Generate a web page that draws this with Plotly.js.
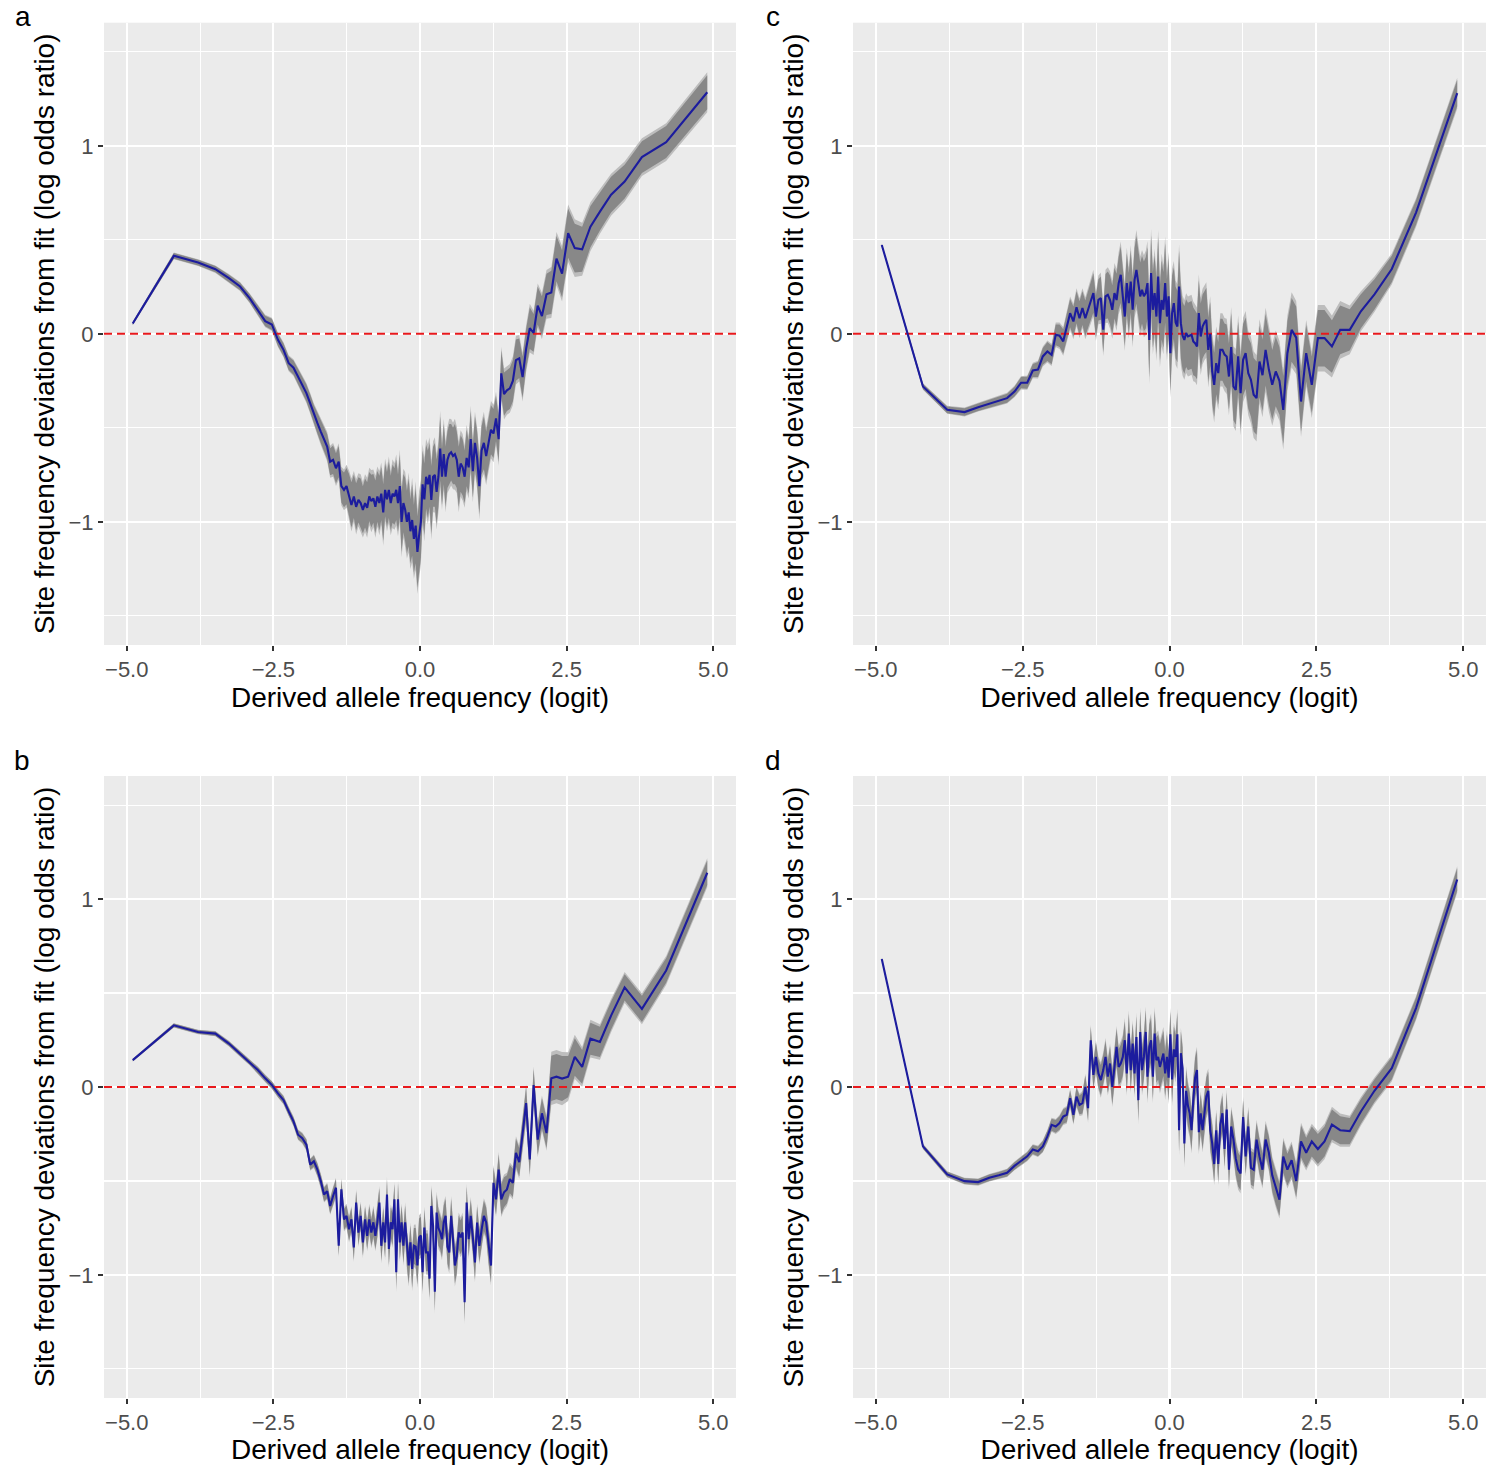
<!DOCTYPE html>
<html>
<head>
<meta charset="utf-8">
<script src="https://cdn.plot.ly/plotly-3.0.1.min.js"></script>
<style>
  html, body { margin: 0; padding: 0; background: #ffffff; }
  #chart { width: 1500px; height: 1465px; }
</style>
</head>
<body>
<div id="chart"></div>
<script>
// Derived allele frequency (logit) positions shared by all panels
const freqLogit = [
  -4.898,-4.197,-3.784,-3.489,-3.258,-3.068,-2.906,-2.765,-2.639,-2.526,
  -2.422,-2.327,-2.239,-2.157,-2.079,-2.007,-1.937,-1.872,-1.809,-1.749,
  -1.692,-1.636,-1.583,-1.532,-1.482,-1.433,-1.386,-1.341,-1.296,-1.253,
  -1.21,-1.169,-1.128,-1.089,-1.05,-1.012,-0.974,-0.937,-0.901,-0.865,
  -0.83,-0.795,-0.761,-0.727,-0.693,-0.66,-0.627,-0.595,-0.563,-0.531,
  -0.499,-0.468,-0.436,-0.405,-0.375,-0.344,-0.314,-0.283,-0.253,-0.223,
  -0.193,-0.163,-0.134,-0.104,-0.074,-0.044,-0.015,
  0.015,0.044,0.074,0.104,0.134,0.163,0.193,0.223,0.253,0.283,
  0.314,0.344,0.375,0.405,0.436,0.468,0.499,0.531,0.563,0.595,
  0.627,0.66,0.693,0.727,0.761,0.795,0.83,0.865,0.901,0.937,
  0.974,1.012,1.05,1.089,1.128,1.169,1.21,1.253,1.296,1.341,
  1.386,1.433,1.482,1.532,1.583,1.636,1.692,1.749,1.809,1.872,
  1.937,2.007,2.079,2.157,2.239,2.327,2.422,2.526,2.639,2.765,
  2.906,3.068,3.258,3.489,3.784,4.197,4.898
];

// Panel a
const devA = [
  0.055,0.415,0.379,0.344,0.296,0.252,0.19,0.128,0.068,0.05,
  -0.032,-0.085,-0.156,-0.18,-0.227,-0.27,-0.315,-0.37,-0.43,-0.475,
  -0.52,-0.564,-0.6,-0.68,-0.67,-0.715,-0.68,-0.81,-0.83,-0.81,
  -0.856,-0.91,-0.865,-0.92,-0.883,-0.9,-0.936,-0.9,-0.925,-0.865,
  -0.89,-0.875,-0.92,-0.865,-0.9,-0.85,-0.95,-0.83,-0.88,-0.83,
  -0.9,-0.85,-0.865,-0.83,-0.9,-0.81,-1.0,-0.9,-0.935,-1.0,
  -0.95,-1.05,-0.99,-1.09,-1.02,-1.16,-1.07,
  -1.0,-0.8,-0.88,-0.76,-0.8,-0.75,-0.883,-0.76,-0.75,-0.84,
  -0.76,-0.61,-0.76,-0.64,-0.76,-0.67,-0.64,-0.63,-0.65,-0.64,
  -0.67,-0.76,-0.69,-0.71,-0.76,-0.66,-0.71,-0.56,-0.73,-0.58,
  -0.66,-0.81,-0.62,-0.58,-0.65,-0.58,-0.51,-0.53,-0.45,-0.56,
  -0.21,-0.32,-0.3,-0.29,-0.25,-0.14,-0.13,-0.23,-0.08,0.03,
  0.005,0.15,0.095,0.21,0.22,0.4,0.32,0.535,0.456,0.45,
  0.57,0.65,0.74,0.81,0.94,1.02,1.285
];
const ciA = [
  0.008,0.015,0.015,0.017,0.019,0.02,0.022,0.025,0.028,0.03,
  0.032,0.034,0.036,0.038,0.04,0.042,0.045,0.047,0.05,0.055,
  0.06,0.063,0.067,0.072,0.076,0.08,0.083,0.087,0.092,0.096,
  0.11,0.12,0.115,0.125,0.12,0.13,0.125,0.13,0.135,0.13,
  0.14,0.13,0.14,0.135,0.145,0.14,0.15,0.14,0.145,0.15,
  0.145,0.155,0.15,0.16,0.15,0.165,0.16,0.155,0.17,0.165,
  0.18,0.17,0.19,0.18,0.2,0.19,0.2,
  0.19,0.18,0.19,0.17,0.18,0.17,0.18,0.16,0.17,0.17,
  0.16,0.17,0.15,0.16,0.16,0.15,0.16,0.15,0.15,0.16,
  0.15,0.16,0.15,0.15,0.14,0.15,0.14,0.15,0.14,0.14,
  0.14,0.15,0.13,0.14,0.13,0.13,0.13,0.13,0.12,0.12,
  0.12,0.115,0.11,0.11,0.11,0.11,0.105,0.11,0.105,0.11,
  0.1,0.1,0.105,0.11,0.115,0.12,0.125,0.13,0.13,0.12,
  0.11,0.1,0.095,0.09,0.085,0.085,0.09
];

// Panel b
const devB = [
  0.143,0.328,0.293,0.284,0.231,0.178,0.134,0.09,0.046,0.011,
  -0.034,-0.069,-0.13,-0.183,-0.254,-0.272,-0.307,-0.413,-0.395,-0.44,
  -0.5,-0.572,-0.554,-0.633,-0.58,-0.536,-0.845,-0.545,-0.704,-0.686,
  -0.757,-0.704,-0.854,-0.615,-0.775,-0.686,-0.827,-0.704,-0.792,-0.704,
  -0.775,-0.72,-0.792,-0.72,-0.615,-0.845,-0.72,-0.827,-0.572,-0.862,
  -0.72,-0.757,-0.598,-0.986,-0.598,-0.827,-0.72,-0.845,-0.72,-0.862,
  -0.95,-0.827,-0.968,-0.845,-0.85,-0.95,-0.8,
  -0.79,-0.986,-0.748,-0.88,-0.88,-1.02,-0.633,-0.739,-1.09,-0.668,
  -0.75,-0.774,-0.81,-0.72,-0.686,-0.85,-0.88,-0.686,-0.81,-0.95,
  -0.9,-0.774,-0.8,-0.774,-1.145,-0.615,-0.81,-0.686,-0.8,-0.933,
  -0.721,-0.845,-0.76,-0.686,-0.72,-0.85,-0.95,-0.51,-0.598,-0.44,
  -0.598,-0.56,-0.545,-0.49,-0.51,-0.35,-0.4,-0.25,-0.086,-0.386,
  0.01,-0.28,-0.14,-0.245,0.046,0.055,0.045,0.055,0.16,0.107,
  0.257,0.24,0.38,0.53,0.416,0.62,1.14
];
const ciB = [
  0.006,0.01,0.01,0.012,0.013,0.014,0.015,0.016,0.017,0.018,
  0.019,0.02,0.021,0.022,0.024,0.025,0.027,0.028,0.03,0.032,
  0.034,0.036,0.038,0.04,0.042,0.045,0.05,0.05,0.055,0.055,
  0.06,0.06,0.065,0.06,0.065,0.065,0.07,0.065,0.07,0.07,
  0.07,0.075,0.07,0.075,0.075,0.08,0.075,0.08,0.08,0.085,
  0.08,0.085,0.08,0.09,0.085,0.09,0.085,0.09,0.09,0.095,
  0.095,0.09,0.1,0.095,0.1,0.1,0.1,
  0.1,0.1,0.095,0.1,0.1,0.1,0.095,0.095,0.1,0.095,
  0.095,0.09,0.095,0.09,0.09,0.09,0.095,0.09,0.09,0.095,
  0.09,0.09,0.09,0.09,0.1,0.085,0.09,0.085,0.085,0.09,
  0.085,0.085,0.08,0.08,0.08,0.085,0.09,0.08,0.08,0.08,
  0.08,0.08,0.075,0.075,0.075,0.075,0.075,0.08,0.085,0.08,
  0.085,0.08,0.08,0.08,0.12,0.12,0.12,0.11,0.1,0.09,
  0.085,0.08,0.075,0.07,0.07,0.065,0.065
];

// Panel c
const devC = [
  0.473,-0.28,-0.404,-0.416,-0.39,-0.372,-0.355,-0.342,-0.307,-0.26,
  -0.26,-0.195,-0.19,-0.12,-0.094,-0.112,-0.005,-0.01,-0.04,0.043,
  0.11,0.066,0.142,0.083,0.137,0.083,0.128,0.172,0.217,0.092,
  0.181,0.19,0.022,0.199,0.207,0.18,0.128,0.217,0.18,0.27,
  0.314,0.199,0.092,0.27,0.163,0.278,0.128,0.287,0.34,0.27,
  0.199,0.234,0.2,0.217,0.27,-0.032,0.323,0.128,0.217,0.092,
  0.305,0.057,0.18,0.128,0.27,0.092,0.2,
  -0.103,0.11,0.163,0.06,0.039,0.252,0.057,-0.01,-0.032,0.004,
  -0.014,-0.01,-0.005,-0.04,-0.05,-0.067,0.11,-0.014,0.039,0.06,
  0.074,-0.085,0.0,-0.2,-0.271,-0.156,-0.209,-0.085,-0.085,-0.11,
  -0.12,-0.227,-0.07,-0.28,-0.298,-0.12,-0.316,-0.138,-0.103,-0.209,
  -0.245,-0.324,-0.342,-0.147,-0.22,-0.085,-0.19,-0.271,-0.2,-0.25,
  -0.404,-0.103,0.021,-0.02,-0.36,-0.103,-0.271,-0.023,-0.023,-0.067,
  0.021,0.021,0.12,0.21,0.345,0.645,1.28
];
const ciC = [
  0.006,0.015,0.018,0.02,0.02,0.021,0.022,0.024,0.026,0.03,
  0.032,0.035,0.04,0.045,0.05,0.05,0.055,0.06,0.065,0.07,
  0.075,0.08,0.085,0.09,0.09,0.095,0.1,0.1,0.105,0.11,
  0.11,0.115,0.12,0.12,0.125,0.13,0.13,0.135,0.14,0.14,
  0.15,0.15,0.155,0.16,0.16,0.165,0.17,0.17,0.18,0.175,
  0.18,0.18,0.185,0.19,0.19,0.2,0.2,0.2,0.2,0.2,
  0.21,0.2,0.21,0.2,0.21,0.2,0.2,
  0.2,0.2,0.19,0.19,0.19,0.19,0.19,0.18,0.18,0.18,
  0.18,0.18,0.18,0.18,0.175,0.175,0.175,0.175,0.17,0.17,
  0.17,0.17,0.17,0.17,0.17,0.165,0.165,0.165,0.165,0.165,
  0.17,0.175,0.18,0.18,0.185,0.185,0.19,0.19,0.19,0.19,
  0.195,0.195,0.195,0.19,0.19,0.19,0.19,0.185,0.185,0.18,
  0.18,0.17,0.17,0.165,0.16,0.15,0.15,0.15,0.15,0.14,
  0.13,0.11,0.09,0.08,0.07,0.065,0.07
];

// Panel d
const devD = [
  0.681,-0.316,-0.465,-0.501,-0.506,-0.483,-0.47,-0.457,-0.42,-0.395,
  -0.369,-0.333,-0.342,-0.316,-0.263,-0.201,-0.21,-0.192,-0.157,-0.148,
  -0.06,-0.148,-0.051,-0.095,-0.086,0.0,-0.113,0.249,0.064,0.16,
  0.072,0.037,0.09,0.16,0.055,0.125,0.0,0.107,0.213,0.107,
  0.125,0.16,0.249,0.072,0.284,0.09,0.231,0.072,0.266,-0.07,
  0.293,0.09,0.16,0.293,0.055,0.213,0.249,0.055,0.284,0.143,
  0.16,0.107,0.143,0.178,0.072,0.16,0.05,
  0.28,0.04,0.2,0.16,0.28,-0.23,0.18,0.1,-0.3,-0.02,
  -0.1,-0.14,-0.23,-0.07,0.05,0.09,-0.24,-0.14,-0.23,-0.14,
  -0.05,-0.02,-0.23,-0.3,-0.41,-0.23,-0.41,-0.2,-0.14,-0.33,
  -0.12,-0.44,-0.21,-0.28,-0.38,-0.44,-0.46,-0.16,-0.37,-0.21,
  -0.43,-0.44,-0.28,-0.37,-0.44,-0.28,-0.35,-0.47,-0.54,-0.6,
  -0.37,-0.44,-0.39,-0.5,-0.29,-0.35,-0.29,-0.33,-0.29,-0.2,
  -0.23,-0.235,-0.13,-0.02,0.1,0.42,1.104
];
const ciD = [
  0.006,0.012,0.014,0.015,0.016,0.017,0.018,0.019,0.02,0.021,
  0.022,0.024,0.026,0.028,0.03,0.032,0.034,0.036,0.038,0.04,
  0.042,0.045,0.048,0.05,0.055,0.06,0.065,0.07,0.07,0.075,
  0.075,0.08,0.08,0.085,0.085,0.09,0.09,0.09,0.095,0.095,
  0.1,0.1,0.1,0.1,0.105,0.105,0.105,0.11,0.11,0.11,
  0.11,0.115,0.115,0.115,0.12,0.12,0.12,0.12,0.12,0.12,
  0.12,0.12,0.12,0.12,0.12,0.12,0.12,
  0.12,0.12,0.12,0.115,0.115,0.115,0.115,0.11,0.11,0.11,
  0.11,0.11,0.105,0.105,0.105,0.105,0.1,0.1,0.1,0.1,
  0.1,0.1,0.1,0.1,0.095,0.095,0.095,0.095,0.095,0.095,
  0.09,0.09,0.09,0.09,0.09,0.09,0.09,0.09,0.09,0.09,
  0.09,0.09,0.09,0.09,0.085,0.085,0.085,0.085,0.085,0.085,
  0.085,0.085,0.085,0.085,0.085,0.08,0.08,0.08,0.08,0.08,
  0.075,0.07,0.065,0.06,0.06,0.055,0.06
];

const panelLetters = ['a', 'b', 'c', 'd'];
const xTicks = [-5, -2.5, 0, 2.5, 5];
const xMinor = [-3.75, -1.25, 1.25, 3.75];
const yTicks = [-1, 0, 1];
const yMinor = [-1.5, -0.5, 0.5, 1.5];
const xTitle = 'Derived allele frequency (logit)';
const yTitle = 'Site frequency deviations from fit (log odds ratio)';
const X_RANGE = [-5.388, 5.388];
const Y_RANGE = [-1.655, 1.655];

const FONT = 'Liberation Sans, Arial, Helvetica, sans-serif';

function ribbon(xs, ys, ci, k, xa, ya, color) {
  const up = ys.map((v, i) => v + ci[i] * k);
  const lo = ys.map((v, i) => v - ci[i] * k);
  return {
    type: 'scatter', mode: 'lines', xaxis: xa, yaxis: ya,
    x: xs.concat(xs.slice().reverse()),
    y: up.concat(lo.slice().reverse()),
    fill: 'toself', fillcolor: color, line: { width: 0, color: color },
    hoverinfo: 'skip', showlegend: false
  };
}

function panelTraces(ys, ci, xa, ya) {
  return [
    ribbon(freqLogit, ys, ci, 1.18, xa, ya, '#BDBDBD'),
    ribbon(freqLogit, ys, ci, 1.0, xa, ya, '#888888'),
    {
      type: 'scatter', mode: 'lines', xaxis: xa, yaxis: ya,
      x: X_RANGE, y: [0, 0],
      line: { color: '#E8191C', width: 2, dash: '8px,5px' },
      hoverinfo: 'skip', showlegend: false
    },
    {
      type: 'scatter', mode: 'lines', xaxis: xa, yaxis: ya,
      x: freqLogit, y: ys,
      line: { color: '#1C1C9E', width: 2.1 },
      showlegend: false
    }
  ];
}

const data = [].concat(
  panelTraces(devA, ciA, 'x', 'y'),
  panelTraces(devC, ciC, 'x2', 'y2'),
  panelTraces(devB, ciB, 'x3', 'y3'),
  panelTraces(devD, ciD, 'x4', 'y4')
);

function xAxis(domain, anchor) {
  return {
    domain: domain, anchor: anchor, range: X_RANGE, autorange: false,
    tickmode: 'array', tickvals: xTicks, tickformat: '.1f',
    ticks: 'outside', ticklen: 5, tickwidth: 2, tickcolor: '#333333',
    tickfont: { family: FONT, size: 22, color: '#4D4D4D' },
    showgrid: true, gridcolor: '#FFFFFF', gridwidth: 2.2,
    minor: { tickmode: 'array', tickvals: xMinor, showgrid: true, gridcolor: '#FFFFFF', gridwidth: 1.1, ticks: '' },
    zeroline: false, showline: false, fixedrange: true,
    title: { text: xTitle, font: { family: FONT, size: 28, color: '#000000' }, standoff: 3 }
  };
}
function yAxis(domain, anchor) {
  return {
    domain: domain, anchor: anchor, range: Y_RANGE, autorange: false,
    tickmode: 'array', tickvals: yTicks, tickformat: 'd',
    ticks: 'outside', ticklen: 5, tickwidth: 2, tickcolor: '#333333',
    tickfont: { family: FONT, size: 22, color: '#4D4D4D' },
    showgrid: true, gridcolor: '#FFFFFF', gridwidth: 2.2,
    minor: { tickmode: 'array', tickvals: yMinor, showgrid: true, gridcolor: '#FFFFFF', gridwidth: 1.1, ticks: '' },
    zeroline: false, showline: false, fixedrange: true,
    title: { text: yTitle, font: { family: FONT, size: 28, color: '#000000' }, standoff: 5 }
  };
}

const W = 1500, H = 1465;
const colL = [104 / W, 736 / W];
const colR = [853 / W, 1486 / W];
const rowT = [1 - 645 / H, 1 - 22.7 / H];
const rowB = [1 - 1398 / H, 1 - 776 / H];

function letter(txt, px, py) {
  return {
    text: txt, xref: 'paper', yref: 'paper', x: px / W, y: 1 - py / H,
    xanchor: 'center', yanchor: 'top', showarrow: false, borderpad: 0,
    font: { family: FONT, size: 28, color: '#000000' }
  };
}

const layout = {
  width: W, height: H,
  margin: { l: 0, r: 0, t: 0, b: 0, pad: 0 },
  paper_bgcolor: '#FFFFFF', plot_bgcolor: '#EBEBEB',
  font: { family: FONT },
  showlegend: false,
  xaxis: xAxis(colL, 'y'), yaxis: yAxis(rowT, 'x'),
  xaxis2: xAxis(colR, 'y2'), yaxis2: yAxis(rowT, 'x2'),
  xaxis3: xAxis(colL, 'y3'), yaxis3: yAxis(rowB, 'x3'),
  xaxis4: xAxis(colR, 'y4'), yaxis4: yAxis(rowB, 'x4'),
  annotations: [
    letter(panelLetters[0], 23, 0),
    letter(panelLetters[1], 22, 744),
    letter(panelLetters[2], 773, 0),
    letter(panelLetters[3], 773, 744)
  ]
};

Plotly.newPlot('chart', data, layout, { staticPlot: true, displayModeBar: false });
</script>
</body>
</html>
